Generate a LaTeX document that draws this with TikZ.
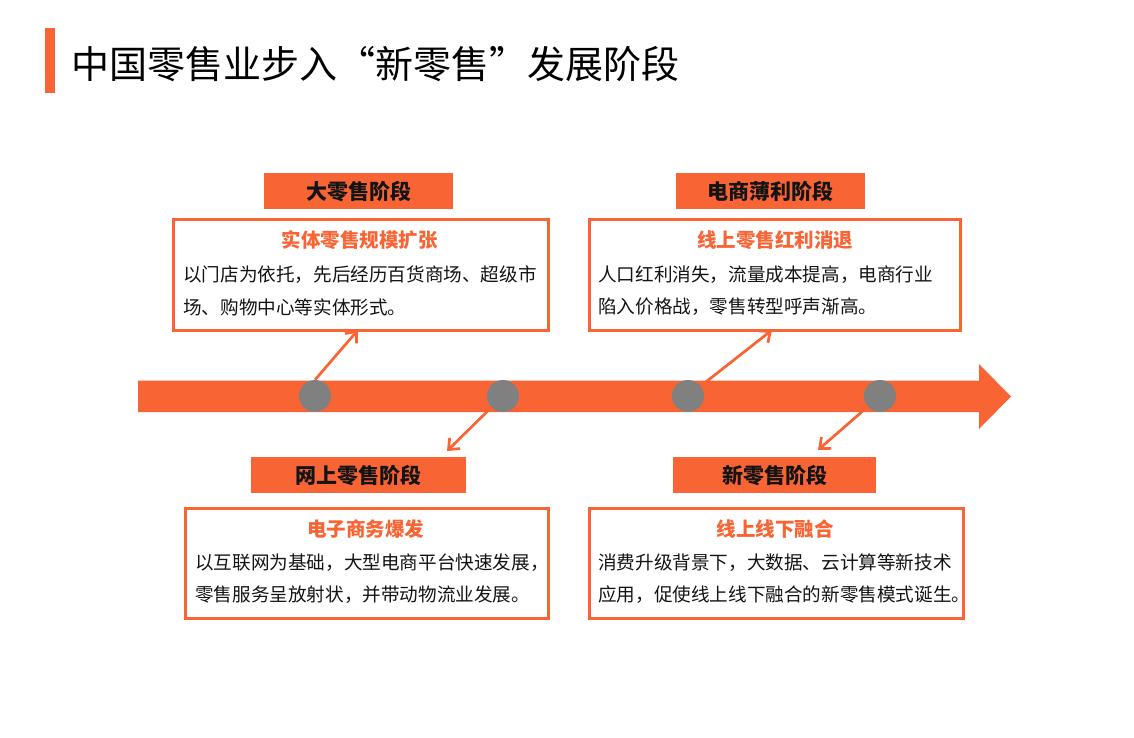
\documentclass[tikz,border=0pt]{standalone}
\usepackage{fontspec}
\setmainfont{Noto Sans CJK SC}
\usetikzlibrary{arrows.meta}
\definecolor{org}{RGB}{249,100,52}
\definecolor{dotgray}{RGB}{128,128,128}
\definecolor{ink}{RGB}{20,20,20}
\begin{document}
\begin{tikzpicture}[x=1pt,y=-1pt,
  hdr/.style={fill=org, draw=none, anchor=north west, inner sep=0pt, minimum height=36pt,
    text=ink, font=\fontsize{21pt}{24pt}\selectfont\bfseries},
  panel/.style={draw=org, line width=2.7pt, fill=white, anchor=north west, inner sep=0pt},
  ptitle/.style={inner sep=0pt, text=org, font=\fontsize{19.5pt}{22pt}\selectfont\bfseries},
  pline/.style={inner sep=0pt, anchor=west, text=ink, font=\fontsize{18.6pt}{22pt}\selectfont},
  dotc/.style={circle, fill=dotgray, draw=none, minimum size=32pt, inner sep=0pt},
  conn/.style={draw=org, line width=2.7pt, -{Straight Barb[length=9pt,width=15pt]}}
]
\useasboundingbox (0,0) rectangle (1134,737);
\fill[white] (0,0) rectangle (1134,737);

% title
\fill[org] (45,28) rectangle (55,93);
\node[inner sep=0pt, anchor=west, text=black, font=\fontsize{38pt}{41pt}\selectfont] (title) at (71,64) {中国零售业步入“新零售”发展阶段};

% main arrow
\fill[org] (138,380.5) -- (979,380.5) -- (979,364) -- (1011,396.5) -- (979,429) -- (979,412) -- (138,412) -- cycle;

% headers
\node[hdr, minimum width=189pt] (h1) at (264,173) {大零售阶段};
\node[hdr, minimum width=189pt] (h2) at (676,173) {电商薄利阶段};
\node[hdr, minimum width=215pt] (h3) at (251,457) {网上零售阶段};
\node[hdr, minimum width=203pt] (h4) at (673,457) {新零售阶段};

% panels
\node[panel, minimum width=375pt, minimum height=111pt] (b1) at (172,218) {};
\node[panel, minimum width=371pt, minimum height=111pt] (b2) at (588,218) {};
\node[panel, minimum width=363pt, minimum height=110pt] (b3) at (184,507) {};
\node[panel, minimum width=374pt, minimum height=110pt] (b4) at (588,507) {};

% panel texts
\node[ptitle] (t1a) at (359.5,240) {实体零售规模扩张};
\node[pline] (t1b) at (183,275) {以门店为依托，先后经历百货商场、超级市};
\node[pline] (t1c) at (183,307) {场、购物中心等实体形式。};

\node[ptitle] (t2a) at (775,240) {线上零售红利消退};
\node[pline] (t2b) at (598,275) {人口红利消失，流量成本提高，电商行业};
\node[pline] (t2c) at (598,307) {陷入价格战，零售转型呼声渐高。};

\node[ptitle] (t3a) at (365.5,529) {电子商务爆发};
\node[pline] (t3b) at (195,563) {以互联网为基础，大型电商平台快速发展，};
\node[pline] (t3c) at (195,595) {零售服务呈放射状，并带动物流业发展。};

\node[ptitle] (t4a) at (775,529) {线上线下融合};
\node[pline] (t4b) at (598,563) {消费升级背景下，大数据、云计算等新技术};
\node[pline] (t4c) at (598,595) {应用，促使线上线下融合的新零售模式诞生。};

% timeline dots
\node[dotc] (c1) at (315,396) {};
\node[dotc] (c2) at (503,396) {};
\node[dotc] (c3) at (688,396) {};
\node[dotc] (c4) at (880,396) {};

% connectors
\coordinate (e1) at (358,330);
\coordinate (e2) at (447,451);
\coordinate (e3) at (772,330);
\coordinate (e4) at (818,450);
\draw[conn] (c1.north) -- (e1);
\draw[conn] (c2) -- (e2);
\draw[conn] (c3) -- (e3);
\draw[conn] (c4) -- (e4);
\end{tikzpicture}
\end{document}
